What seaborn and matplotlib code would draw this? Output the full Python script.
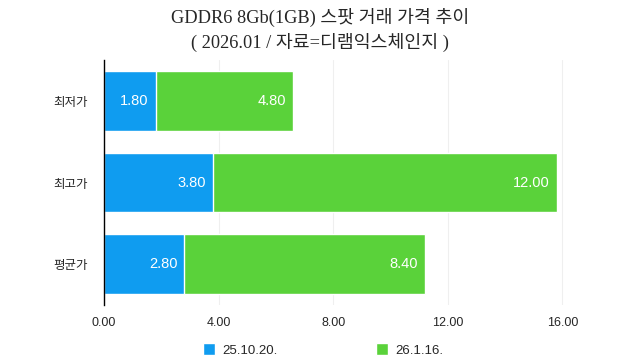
import numpy as np
import pandas as pd
import seaborn as sns
import matplotlib.pyplot as plt

# chart data
categories = ['최저가', '최고가', '평균가']
series_names = ['25.10.20.', '26.1.16.']
oct_values = [1.80, 3.80, 2.80]
jan_values = [4.80, 12.00, 8.40]
x_ticks = [0, 4, 8, 12, 16]

colors = ['#0f9cf0', '#5ad23a']

sns.set_theme(style='white')
plt.rcParams['font.family'] = ['Noto Sans CJK KR', 'DejaVu Sans']

fig = plt.figure(figsize=(6.4, 3.6), dpi=100)
ax = fig.add_axes([0.1625, 0.153, 0.77, 0.68])

# stacked bars: draw the totals first, then the first series on top
df = pd.DataFrame({'cat': categories, 'a': oct_values, 'b': jan_values})
df['total'] = df['a'] + df['b']
sns.barplot(data=df, y='cat', x='total', color=colors[1], orient='h',
            width=0.73, saturation=1, ax=ax, label=series_names[1], zorder=3)
sns.barplot(data=df, y='cat', x='a', color=colors[0], orient='h',
            width=0.73, saturation=1, ax=ax, label=series_names[0], zorder=3)

# value labels, right aligned inside the end of each segment
for i, (a, b) in enumerate(zip(oct_values, jan_values)):
    ax.annotate(f'{a:.2f}', (a, i), xytext=(-5, 0), textcoords='offset points',
                ha='right', va='center', color='white', fontsize=10.5,
                family=['Liberation Sans'])
    ax.annotate(f'{b:.2f}', (a + b, i), xytext=(-5, 0), textcoords='offset points',
                ha='right', va='center', color='white', fontsize=10.5,
                family=['Liberation Sans'])

ax.set_xlim(0, 17.2)
ax.set_ylim(2.5, -0.5)
ax.set_xticks(x_ticks)
ax.set_xticklabels([f'{v:.2f}' for v in x_ticks], family=['Liberation Sans'])
ax.set_xlabel('')
ax.set_ylabel('')
ax.tick_params(axis='x', labelsize=9, length=5, color='#e4e4e4', pad=4)
ax.tick_params(axis='y', labelsize=9, length=0, pad=12)
for t in ax.get_yticklabels():
    t.set_fontweight('medium')
ax.grid(axis='x', color='#efefef', linewidth=0.8, zorder=0)
for s in ['top', 'right', 'bottom']:
    ax.spines[s].set_visible(False)
ax.spines['left'].set_color('black')
ax.spines['left'].set_linewidth(1.0)
ax.spines['left'].set_zorder(5)

# legend in original order
handles, labels = ax.get_legend_handles_labels()
order = [labels.index(n) for n in series_names]
fig.legend([handles[k] for k in order], [labels[k] for k in order],
           loc='center', bbox_to_anchor=(0.505, 0.028), ncol=2,
           frameon=False, handlelength=0.95, handleheight=0.95,
           columnspacing=7.4, handletextpad=0.55,
           prop={'family': ['Liberation Sans'], 'size': 9.5})
if ax.get_legend():
    ax.get_legend().remove()

fig.text(0.5, 0.952, 'GDDR6 8Gb(1GB) 스팟 거래 가격 추이', ha='center', va='center',
         fontsize=13.2, family=['Liberation Serif', 'Noto Sans CJK KR'])
fig.text(0.5, 0.883, '( 2026.01 / 자료=디램익스체인지 )', ha='center', va='center',
         fontsize=13.2, family=['Liberation Serif', 'Noto Sans CJK KR'])

fig.savefig('out.png', dpi=100)
